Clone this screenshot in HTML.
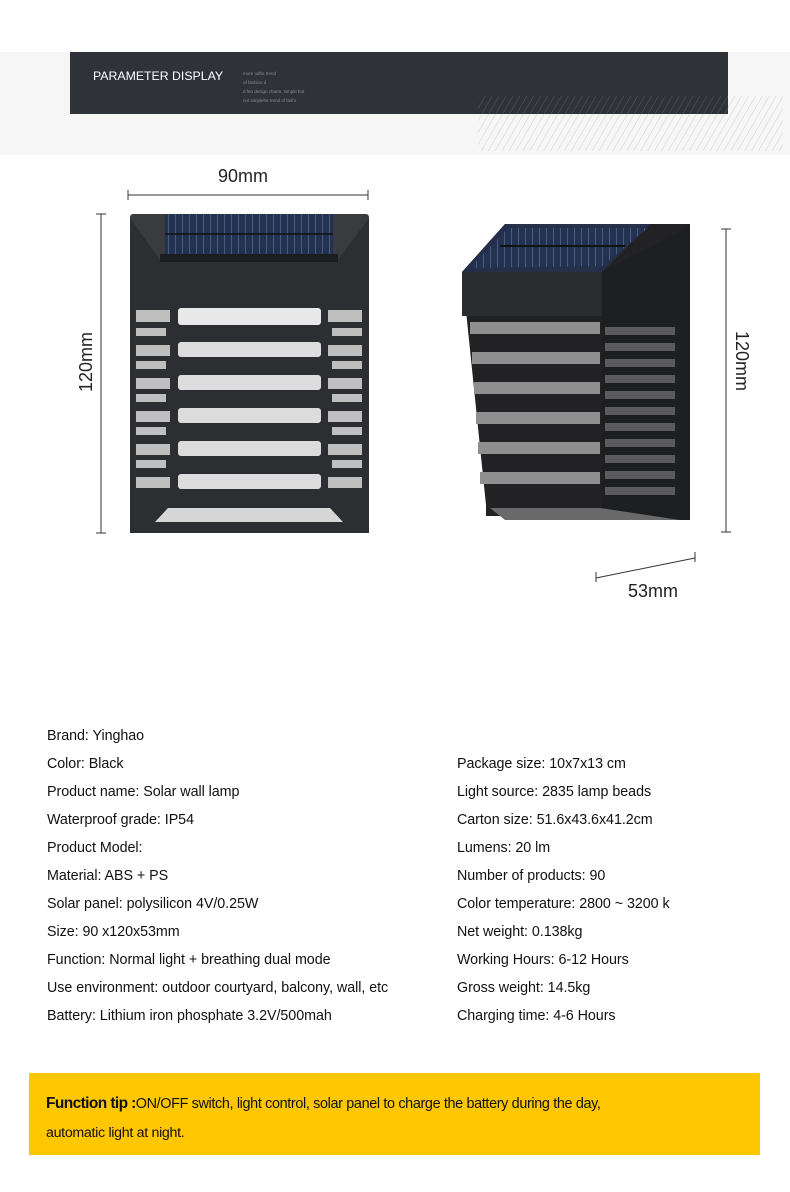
<!DOCTYPE html>
<html><head><meta charset="utf-8"><style>
body{margin:0;width:790px;height:1192px;background:#fff;position:relative;overflow:hidden;font-family:"Liberation Sans",sans-serif;}
.t{position:absolute;font-size:14.3px;color:#111;letter-spacing:-0.05px;white-space:nowrap;line-height:16px}
</style></head><body>
<div style="position:absolute;left:0;top:52px;width:790px;height:103px;background:#f6f6f6"></div>
<svg style="position:absolute;left:0;top:0" width="790" height="700">
<defs>
<pattern id="h" width="6" height="6" patternUnits="userSpaceOnUse" patternTransform="rotate(30)"><line x1="0" y1="0" x2="0" y2="6" stroke="#cfcfcf" stroke-width="1"/></pattern>
<pattern id="sol" width="7" height="6" patternUnits="userSpaceOnUse"><rect width="7" height="6" fill="#243252"/><line x1="0.5" y1="0" x2="0.5" y2="6" stroke="#4a5a80" stroke-width="1"/></pattern>
</defs>
<rect x="478" y="96" width="305" height="55" fill="url(#h)"/>
<rect x="70" y="52" width="658" height="62" fill="#2f3238"/>
<rect x="478" y="96" width="250" height="18" fill="url(#h)" opacity="0.25"/>
<text x="93" y="80" fill="#fff" font-size="12.3" font-family="Liberation Sans">PARAMETER DISPLAY</text>
<g fill="#8a8d92" font-size="4.5" font-family="Liberation Sans"><text x="243" y="75">more odhe trend</text><text x="243" y="84">of fashino d</text><text x="243" y="93">d fen design charm, simple but</text><text x="243" y="102">not simplehe trend of fashi</text></g>
<g stroke="#333" stroke-width="1" fill="none">
<line x1="128" y1="195" x2="368" y2="195"/><line x1="128" y1="190" x2="128" y2="200"/><line x1="368" y1="190" x2="368" y2="200"/>
<line x1="101" y1="214" x2="101" y2="533"/><line x1="96" y1="214" x2="106" y2="214"/><line x1="96" y1="533" x2="106" y2="533"/>
<line x1="726" y1="229" x2="726" y2="532"/><line x1="721" y1="229" x2="731" y2="229"/><line x1="721" y1="532" x2="731" y2="532"/>
<line x1="596" y1="578" x2="695" y2="558"/><line x1="596" y1="572" x2="596" y2="582"/><line x1="695" y1="552" x2="695" y2="562"/>
</g>
<text x="218" y="182" font-size="18" fill="#222" font-family="Liberation Sans">90mm</text>
<text x="628" y="597" font-size="18" fill="#222" font-family="Liberation Sans">53mm</text>
<text transform="translate(92,392) rotate(-90)" font-size="18" fill="#222" font-family="Liberation Sans">120mm</text>
<text transform="translate(736,331) rotate(90)" font-size="18" fill="#222" font-family="Liberation Sans">120mm</text>
<path d="M133 214 H366 Q369 214 369 218 V530 Q369 533 366 533 H133 Q130 533 130 530 V218 Q130 214 133 214Z" fill="#3a3b3e"/>
<path d="M130 218 L160 260 H338 L369 218 V533 H130Z" fill="#2d2e31"/>
<rect x="165" y="214" width="168" height="40" fill="url(#sol)"/>
<line x1="165" y1="234" x2="333" y2="234" stroke="#111" stroke-width="1.5"/>
<rect x="160" y="254" width="178" height="8" fill="#1c1d1f"/>
<g fill="#dcdcdc">
<rect x="178" y="308" width="143" height="17" rx="3" fill="#e8e8e8"/>
<rect x="178" y="342" width="143" height="15" rx="3"/>
<rect x="178" y="375" width="143" height="15" rx="3"/>
<rect x="178" y="408" width="143" height="15" rx="3"/>
<rect x="178" y="441" width="143" height="15" rx="3"/>
<rect x="178" y="474" width="143" height="15" rx="3"/>
</g>
<g fill="#bfbfbf">
<rect x="136" y="310" width="34" height="12"/><rect x="328" y="310" width="34" height="12"/>
<rect x="136" y="328" width="30" height="8"/><rect x="332" y="328" width="30" height="8"/>
<rect x="136" y="345" width="34" height="11"/><rect x="328" y="345" width="34" height="11"/>
<rect x="136" y="361" width="30" height="8"/><rect x="332" y="361" width="30" height="8"/>
<rect x="136" y="378" width="34" height="11"/><rect x="328" y="378" width="34" height="11"/>
<rect x="136" y="394" width="30" height="8"/><rect x="332" y="394" width="30" height="8"/>
<rect x="136" y="411" width="34" height="11"/><rect x="328" y="411" width="34" height="11"/>
<rect x="136" y="427" width="30" height="8"/><rect x="332" y="427" width="30" height="8"/>
<rect x="136" y="444" width="34" height="11"/><rect x="328" y="444" width="34" height="11"/>
<rect x="136" y="460" width="30" height="8"/><rect x="332" y="460" width="30" height="8"/>
<rect x="136" y="477" width="34" height="11"/><rect x="328" y="477" width="34" height="11"/>
</g>
<path d="M155 522 L168 508 H330 L343 522Z" fill="#d6d6d6"/>
<path d="M462 272 L505 224 H690 V520 L602 516 H486 V505 L462 272Z" fill="#222225"/>
<path d="M602 272 L690 226 V520 L602 520Z" fill="#1e1f21"/>
<path d="M462 272 L505 224 H650 L602 272Z" fill="#252f4a"/>
<path d="M470 268 L508 228 H648 L602 266Z" fill="url(#sol)"/>
<line x1="500" y1="246" x2="625" y2="246" stroke="#111" stroke-width="2"/>
<rect x="462" y="272" width="140" height="44" fill="#2a2b2e"/>
<g fill="#8f8f8f">
<rect x="470" y="322" width="130" height="12"/><rect x="472" y="352" width="128" height="12"/><rect x="474" y="382" width="126" height="12"/><rect x="476" y="412" width="124" height="12"/><rect x="478" y="442" width="122" height="12"/><rect x="480" y="472" width="120" height="12"/>
</g>
<g fill="#5b5b5e">
<rect x="605" y="327" width="70" height="8"/><rect x="605" y="343" width="70" height="8"/><rect x="605" y="359" width="70" height="8"/><rect x="605" y="375" width="70" height="8"/><rect x="605" y="391" width="70" height="8"/><rect x="605" y="407" width="70" height="8"/><rect x="605" y="423" width="70" height="8"/><rect x="605" y="439" width="70" height="8"/><rect x="605" y="455" width="70" height="8"/><rect x="605" y="471" width="70" height="8"/><rect x="605" y="487" width="70" height="8"/>
</g>
<path d="M490 508 H600 L680 520 H505Z" fill="#6a6a6a"/>
</svg>
<div class="t" style="left:47px;top:728px">Brand: Yinghao</div>
<div class="t" style="left:47px;top:756px">Color: Black</div>
<div class="t" style="left:47px;top:784px">Product name: Solar wall lamp</div>
<div class="t" style="left:47px;top:812px">Waterproof grade: IP54</div>
<div class="t" style="left:47px;top:840px">Product Model:</div>
<div class="t" style="left:47px;top:868px">Material: ABS + PS</div>
<div class="t" style="left:47px;top:896px">Solar panel: polysilicon 4V/0.25W</div>
<div class="t" style="left:47px;top:924px">Size: 90 x120x53mm</div>
<div class="t" style="left:47px;top:952px">Function: Normal light + breathing dual mode</div>
<div class="t" style="left:47px;top:980px">Use environment: outdoor courtyard, balcony, wall, etc</div>
<div class="t" style="left:47px;top:1008px">Battery: Lithium iron phosphate 3.2V/500mah</div>
<div class="t" style="left:457px;top:756px">Package size: 10x7x13 cm</div>
<div class="t" style="left:457px;top:784px">Light source: 2835 lamp beads</div>
<div class="t" style="left:457px;top:812px">Carton size: 51.6x43.6x41.2cm</div>
<div class="t" style="left:457px;top:840px">Lumens: 20 lm</div>
<div class="t" style="left:457px;top:868px">Number of products: 90</div>
<div class="t" style="left:457px;top:896px">Color temperature: 2800 ~ 3200 k</div>
<div class="t" style="left:457px;top:924px">Net weight: 0.138kg</div>
<div class="t" style="left:457px;top:952px">Working Hours: 6-12 Hours</div>
<div class="t" style="left:457px;top:980px">Gross weight: 14.5kg</div>
<div class="t" style="left:457px;top:1008px">Charging time: 4-6 Hours</div>
<div style="position:absolute;left:29px;top:1073px;width:731px;height:82px;background:#ffc700"></div>
<div class="t" style="left:46px;top:1096px;font-size:14.4px;letter-spacing:-0.35px"><b style="letter-spacing:-0.6px;font-size:15.5px">Function tip :</b>ON/OFF switch, light control, solar panel to charge the battery during the day,</div>
<div class="t" style="left:46px;top:1125px;font-size:14.2px;letter-spacing:-0.3px">automatic light at night.</div>
</body></html>
